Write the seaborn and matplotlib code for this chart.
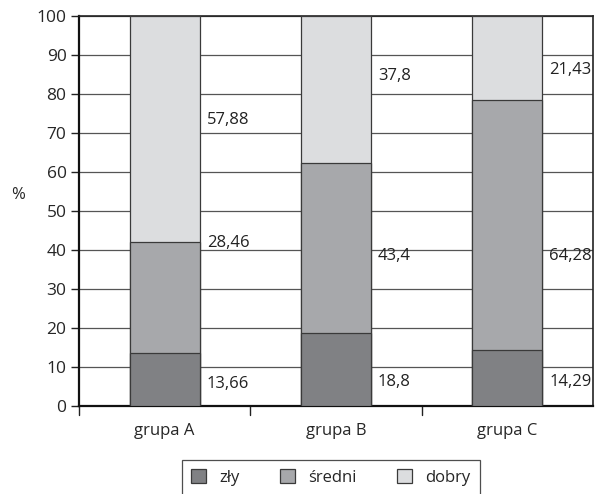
import numpy as np
import pandas as pd
import matplotlib
matplotlib.use("Agg")
import matplotlib.pyplot as plt
import seaborn as sns
from matplotlib.patches import Patch

categories = ["grupa A", "grupa B", "grupa C"]
zly = [13.66, 18.8, 14.29]
sredni = [28.46, 43.4, 64.28]
dobry = [57.88, 37.8, 21.43]
series_names = ["zły", "średni", "dobry"]
y_ticks = [0, 10, 20, 30, 40, 50, 60, 70, 80, 90, 100]

colors = ["#808184", "#a7a8ab", "#dcdddf"]
edge = "#3a3a3a"
FS = 12

sns.set_theme(style="white")
plt.rcParams["font.family"] = ["Open Sans", "DejaVu Sans"]

fig = plt.figure(figsize=(5.95, 4.94), dpi=100)
ax = fig.add_axes([79 / 595, 88 / 494, 514 / 595, 390 / 494])

# cumulative stacks, drawn from the tallest down so each layer shows
c1 = np.array(zly)
c2 = c1 + np.array(sredni)
c3 = c2 + np.array(dobry)
df = pd.DataFrame({"cat": categories, "c1": c1, "c2": c2, "c3": c3})

for col, color in zip(["c3", "c2", "c1"], colors[::-1]):
    sns.barplot(data=df, x="cat", y=col, color=color, width=0.41,
                edgecolor=edge, linewidth=0.9, ax=ax, zorder=3,
                saturation=1)

# value labels next to each bar
label_y = [[5.6, 41.9, 73.4], [6.1, 38.4, 84.6], [6.1, 38.4, 86.2]]
for i in range(len(categories)):
    vals = [zly[i], sredni[i], dobry[i]]
    for v, yy in zip(vals, label_y[i]):
        ax.text(i + 0.205 + 0.04, yy, f"{v:g}".replace(".", ","),
                ha="left", va="center", fontsize=FS, color="#222222",
                zorder=4)

ax.set_ylim(0, 100)
ax.set_xlim(-0.5, 2.5)
ax.set_yticks(y_ticks)
ax.yaxis.grid(True, color="#555555", linewidth=0.9, zorder=0)
ax.set_axisbelow(True)
ax.set_xlabel("")
ax.set_ylabel("%", rotation=0, fontsize=FS, va="center")
ax.yaxis.set_label_coords(-0.118, 0.54)

ax.set_xticks([0, 1, 2])
ax.set_xticklabels(categories, fontsize=FS)
ax.tick_params(axis="x", length=0, pad=12)
# boundary ticks between categories
for xb in [-0.5, 0.5, 1.5]:
    ax.plot([xb, xb], [0, -2.2], color="#222222", lw=1, clip_on=False)
ax.tick_params(axis="y", left=True, length=6, width=1, color="#222222",
               labelsize=FS + 0.5, pad=3)

for s in ["left", "bottom"]:
    ax.spines[s].set_color("#111111")
    ax.spines[s].set_linewidth(1.6)
for s in ["top", "right"]:
    ax.spines[s].set_color("#222222")
    ax.spines[s].set_linewidth(1.2)
    ax.spines[s].set_visible(True)

handles = [Patch(facecolor=c, edgecolor=edge, linewidth=0.9, label=n)
           for c, n in zip(colors, series_names)]
leg = fig.legend(handles=handles, loc="upper center",
                 bbox_to_anchor=(331 / 595, 1 - 460 / 494), ncol=3,
                 frameon=True, fancybox=False, fontsize=FS,
                 handlelength=0.9, handleheight=0.9, columnspacing=2.4,
                 borderpad=0.55, borderaxespad=0, handletextpad=0.8)
leg.get_frame().set_edgecolor("#222222")
leg.get_frame().set_linewidth(0.9)

fig.savefig("out.png", dpi=100)
